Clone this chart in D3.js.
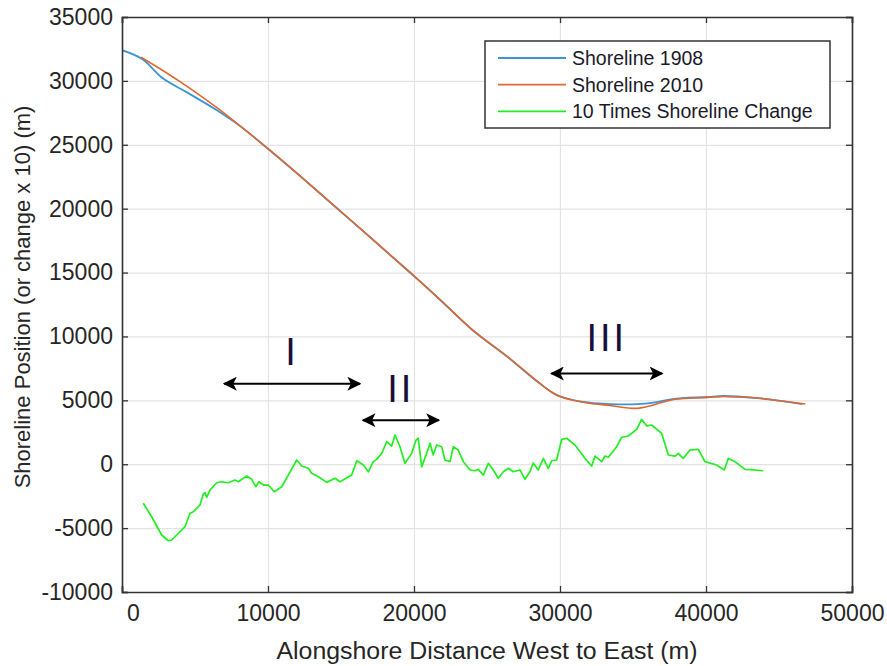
<!DOCTYPE html>
<html>
<head>
<meta charset="utf-8">
<script src="https://cdn.jsdelivr.net/npm/d3@7"></script>
<style>
  html, body { margin: 0; padding: 0; background: #fff; }
  svg { display: block; font-family: "Liberation Sans", Arial, sans-serif; }
</style>
</head>
<body>
<svg id="chart" width="887" height="666"></svg>
<script>
// ---------------- DATA ----------------
const xTickValues = [0, 10000, 20000, 30000, 40000, 50000];
const yTickValues = [-10000, -5000, 0, 5000, 10000, 15000, 20000, 25000, 30000, 35000];

const shoreline1908X = [0, 1400, 2800, 4450, 6500, 8100, 10100, 12200, 14700, 17000, 18700, 20000, 21800, 24000, 26400, 28600, 29800, 31600, 33400, 35300, 36400, 37700, 40100, 41200, 43500, 44600, 46600];
const shoreline1908Y = [32400, 31700, 30200, 29100, 27700, 26460, 24590, 22550, 20050, 17750, 16030, 14720, 12850, 10500, 8400, 6330, 5420, 4870, 4710, 4700, 4820, 5100, 5260, 5340, 5180, 5030, 4710];

const shoreline2010X = [1300, 2600, 4000, 6500, 8100, 10100, 12200, 14700, 17000, 18700, 20000, 21800, 24000, 26400, 28600, 29800, 31600, 33400, 35250, 36400, 37700, 40100, 41200, 43500, 44600, 46800];
const shoreline2010Y = [31850, 30950, 29920, 27900, 26460, 24600, 22560, 20070, 17770, 16050, 14740, 12870, 10520, 8420, 6340, 5380, 4850, 4600, 4370, 4640, 5050, 5230, 5300, 5180, 5030, 4710];

const changeX = [1460, 2030, 2720, 3170, 3400, 3750, 4320, 4660, 4880, 5340, 5570, 5690, 5800, 6030, 6490, 6830, 7280, 7740, 7970, 8540, 8880, 9160, 9380, 9680, 10020, 10430, 10940, 11390, 11970, 12310, 12760, 12990, 13450, 14020, 14590, 14930, 15730, 16080, 16530, 16870, 17210, 17440, 17790, 18130, 18470, 18700, 19040, 19380, 19840, 20140, 20290, 20530, 20870, 21100, 21320, 21550, 21900, 22120, 22470, 22690, 23030, 23380, 23840, 24180, 24400, 24750, 25090, 25430, 25770, 26120, 26460, 26800, 27260, 27600, 27940, 28170, 28510, 28860, 29200, 29430, 29770, 30120, 30460, 31030, 31710, 32170, 32400, 32860, 33080, 33310, 33880, 34220, 34680, 35250, 35590, 35940, 36280, 36960, 37420, 37880, 38100, 38440, 38900, 39470, 39930, 40730, 41070, 41250, 41530, 41980, 42670, 43350, 43920];
const changeY = [-3060, -4110, -5540, -5990, -5930, -5540, -4890, -3840, -3720, -3190, -2330, -2230, -2590, -2020, -1450, -1370, -1450, -1240, -1370, -920, -1180, -1760, -1370, -1630, -1630, -2150, -1760, -850, 330, -140, -320, -710, -980, -1420, -1100, -1370, -850, 270, -60, -590, 200, 380, 850, 1760, 1420, 2290, 1370, 70, 850, 1890, 2030, -200, 850, 1640, 720, 1500, 1370, 330, 200, 1370, 1110, 200, -450, -510, -400, -850, 70, -450, -1100, -590, -320, -590, -450, -1180, -590, 100, -450, 460, -320, 270, 330, 1950, 2030, 1500, 460, -140, 640, 200, 640, 540, 1370, 2110, 2210, 2730, 3510, 2990, 3070, 2420, 720, 640, 850, 460, 1110, 1170, 200, -60, -320, -450, 460, 200, -400, -450, -510, -770];

const seriesNames = ["Shoreline 1908", "Shoreline 2010", "10 Times Shoreline Change"];
const seriesColors = ["#3b95d4", "#e2672f", "#22ee22"];

const regionLabels = ["I", "II", "III"];
const regionStart = [7000, 16500, 29400];
const regionEnd = [16300, 21700, 37000];
const regionLevel = [6300, 3450, 7100];
const labelLevel = [7800, 4900, 8900];

const xAxisTitle = "Alongshore Distance West to East (m)";
const yAxisTitle = "Shoreline Position (or change x 10) (m)";

// ---------------- LAYOUT ----------------
const svg = d3.select("#chart");
const L = 122, R = 852, T = 17, B = 592;
const W = R - L, H = B - T;

const x = d3.scaleLinear().domain([0, 50000]).range([L, R]);
const y = d3.scaleLinear().domain([-10000, 35000]).range([B, T]);

// grid
const gridColor = "#e3e3e3";
svg.append("g").attr("transform", `translate(0,${B})`)
  .call(d3.axisBottom(x).tickValues(xTickValues).tickSize(-H).tickFormat(""))
  .call(g => g.select(".domain").remove())
  .call(g => g.selectAll("line").attr("stroke", gridColor).attr("stroke-width", 1.2));
svg.append("g").attr("transform", `translate(${L},0)`)
  .call(d3.axisLeft(y).tickValues(yTickValues).tickSize(-W).tickFormat(""))
  .call(g => g.select(".domain").remove())
  .call(g => g.selectAll("line").attr("stroke", gridColor).attr("stroke-width", 1.2));

// lines
const line = d3.line().x(d => x(d[0])).y(d => y(d[1]));
const defs = svg.append("defs");
defs.append("clipPath").attr("id", "clip")
  .append("rect").attr("x", L).attr("y", T).attr("width", W).attr("height", H);
const plot = svg.append("g").attr("clip-path", "url(#clip)");

const changeData = d3.zip(changeX, changeY);
const s1908 = d3.zip(shoreline1908X, shoreline1908Y);
const s2010 = d3.zip(shoreline2010X, shoreline2010Y);

plot.append("path").datum(changeData).attr("d", line.curve(d3.curveLinear))
  .attr("fill", "none").attr("stroke", seriesColors[2]).attr("stroke-width", 1.7).attr("stroke-linejoin", "round");
plot.append("path").datum(s1908).attr("d", line.curve(d3.curveCatmullRom.alpha(0.5)))
  .attr("fill", "none").attr("stroke", seriesColors[0]).attr("stroke-width", 1.8);
plot.append("path").datum(s2010).attr("d", line.curve(d3.curveCatmullRom.alpha(0.5)))
  .attr("fill", "none").attr("stroke", seriesColors[1]).attr("stroke-width", 1.6);

// axes (box)
const axisColor = "#333";
const tickFont = 23;
const fmt = d => String(d);
const gx = svg.append("g").attr("transform", `translate(0,${B})`)
  .call(d3.axisBottom(x).tickValues(xTickValues).tickSize(-6).tickPadding(13).tickFormat(fmt));
gx.selectAll("text").attr("dx", d => d === 0 ? 11 : 0);
const gy = svg.append("g").attr("transform", `translate(${L},0)`)
  .call(d3.axisLeft(y).tickValues(yTickValues).tickSize(-6).tickPadding(9).tickFormat(fmt));
const gt = svg.append("g").attr("transform", `translate(0,${T})`)
  .call(d3.axisTop(x).tickValues(xTickValues).tickSize(-6).tickFormat(""));
const gr = svg.append("g").attr("transform", `translate(${R},0)`)
  .call(d3.axisRight(y).tickValues(yTickValues).tickSize(-6).tickFormat(""));
[gx, gy, gt, gr].forEach(g => {
  g.select(".domain").attr("stroke", axisColor).attr("stroke-width", 1.6);
  g.selectAll(".tick line").attr("stroke", axisColor).attr("stroke-width", 1.3);
  g.selectAll("text").attr("fill", "#262626").attr("font-size", tickFont)
    .attr("font-family", "Liberation Sans, Arial, sans-serif");
});

// axis titles
svg.append("text").attr("x", (L + R) / 2).attr("y", 659)
  .attr("text-anchor", "middle").attr("font-size", 23).attr("fill", "#262626")
  .attr("textLength", 421).attr("lengthAdjust", "spacingAndGlyphs")
  .text(xAxisTitle);
svg.append("text").attr("transform", `translate(30,${297}) rotate(-90)`)
  .attr("text-anchor", "middle").attr("font-size", 22).attr("fill", "#262626")
  .text(yAxisTitle);

// region annotations (double arrows)
defs.append("marker").attr("id", "ah").attr("viewBox", "0 0 10 10")
  .attr("refX", 9).attr("refY", 5).attr("markerWidth", 14).attr("markerHeight", 14)
  .attr("markerUnits", "userSpaceOnUse").attr("orient", "auto-start-reverse")
  .append("path").attr("d", "M0,0 L10,5 L0,10 L2.5,5 Z").attr("fill", "#000");

regionLabels.forEach((lab, i) => {
  svg.append("line")
    .attr("x1", x(regionStart[i])).attr("x2", x(regionEnd[i]))
    .attr("y1", y(regionLevel[i])).attr("y2", y(regionLevel[i]))
    .attr("stroke", "#000").attr("stroke-width", 2)
    .attr("marker-start", "url(#ah)").attr("marker-end", "url(#ah)");
  svg.append("text")
    .attr("x", (x(regionStart[i]) + x(regionEnd[i])) / 2)
    .attr("y", y(labelLevel[i]))
    .attr("text-anchor", "middle").attr("font-size", 38)
    .attr("letter-spacing", 3).attr("fill", "#1a0f3a")
    .text(lab);
});

// legend
const lg = svg.append("g");
lg.append("rect").attr("x", 485).attr("y", 41).attr("width", 345).attr("height", 87)
  .attr("fill", "#fff").attr("stroke", "#333").attr("stroke-width", 1.5);
seriesNames.forEach((name, i) => {
  const yy = 58 + i * 26.7;
  lg.append("line").attr("x1", 498).attr("x2", 566).attr("y1", yy).attr("y2", yy)
    .attr("stroke", seriesColors[i]).attr("stroke-width", 1.8);
  lg.append("text").attr("x", 572).attr("y", yy + 7).attr("font-size", 19.5)
    .attr("fill", "#1a1a2a").text(name);
});
</script>
</body>
</html>
